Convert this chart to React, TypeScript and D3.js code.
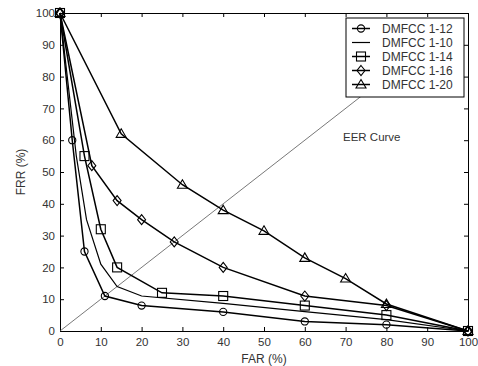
import React, { useEffect, useRef } from 'react';
import * as d3 from 'd3';

// FAR / FRR points
const far12 = [0, 3, 6, 11, 20, 40, 60, 80, 100];
const frr12 = [100, 60, 25, 11, 8, 6, 3, 2, 0];

const far10 = [0, 4, 6.5, 10, 14, 20, 40, 60, 80, 100];
const frr10 = [100, 55, 35, 21, 14, 11, 8.7, 6.1, 3.6, 0];

const far14 = [0, 6, 10, 14, 25, 40, 60, 80, 100];
const frr14 = [100, 55, 32, 20, 12, 11, 8, 5, 0];

const far16 = [0, 7.8, 14, 20, 28, 40, 60, 80, 100];
const frr16 = [100, 52, 41, 35, 28, 20, 11, 8, 0];

const far20 = [0, 15, 30, 40, 50, 60, 70, 80, 100];
const frr20 = [100, 62, 46, 38, 31.5, 23, 16.5, 8.5, 0];

const seriesNames = ['DMFCC 1-12', 'DMFCC 1-10', 'DMFCC 1-14', 'DMFCC 1-16', 'DMFCC 1-20'];
const seriesMarkers = ['circle', 'none', 'square', 'diamond', 'triangle'];
const xTicks = [0, 10, 20, 30, 40, 50, 60, 70, 80, 90, 100];
const yTicks = [0, 10, 20, 30, 40, 50, 60, 70, 80, 90, 100];
const eerEnd = 76;

function App() {
    const svgRef = useRef(null);

    useEffect(() => {
        const width = 478;
        const height = 366;
        const margin = { top: 13, right: 10, bottom: 35, left: 60 };
        const font = 'Liberation Sans, Arial, sans-serif';

        const svg = d3.select(svgRef.current)
            .attr('width', width)
            .attr('height', height);
        svg.selectAll('*').remove();

        const x = d3.scaleLinear().domain([0, 100]).range([margin.left, width - margin.right]);
        const y = d3.scaleLinear().domain([0, 100]).range([height - margin.bottom, margin.top]);

        svg.append('rect')
            .attr('width', width)
            .attr('height', height)
            .attr('fill', '#fff');

        // axes with inward ticks, MATLAB style box
        const tickLen = 4;
        const bottomAxis = svg.append('g')
            .attr('transform', `translate(0,${y(0)})`)
            .call(d3.axisBottom(x).tickValues(xTicks).tickSizeInner(-tickLen).tickSizeOuter(0).tickPadding(6));
        const leftAxis = svg.append('g')
            .attr('transform', `translate(${x(0)},0)`)
            .call(d3.axisLeft(y).tickValues(yTicks).tickSizeInner(-tickLen).tickSizeOuter(0).tickPadding(5));
        svg.append('g')
            .attr('transform', `translate(0,${y(100)})`)
            .call(d3.axisTop(x).tickValues(xTicks).tickSizeInner(-tickLen).tickSizeOuter(0).tickFormat(() => ''));
        svg.append('g')
            .attr('transform', `translate(${x(100)},0)`)
            .call(d3.axisRight(y).tickValues(yTicks).tickSizeInner(-tickLen).tickSizeOuter(0).tickFormat(() => ''));

        svg.selectAll('.domain').attr('stroke', '#000').attr('stroke-width', 1);
        svg.selectAll('.tick line').attr('stroke', '#000');
        [bottomAxis, leftAxis].forEach(a => a.selectAll('text')
            .attr('font-family', font)
            .attr('font-size', 11.5)
            .attr('fill', '#333'));
        bottomAxis.selectAll('text').attr('dy', '0.8em');

        svg.append('text')
            .attr('x', (x(0) + x(100)) / 2)
            .attr('y', 363)
            .attr('text-anchor', 'middle')
            .attr('font-family', font)
            .attr('font-size', 12)
            .attr('fill', '#333')
            .text('FAR (%)');

        svg.append('text')
            .attr('transform', `translate(25,${(y(0) + y(100)) / 2}) rotate(-90)`)
            .attr('text-anchor', 'middle')
            .attr('font-family', font)
            .attr('font-size', 12)
            .attr('fill', '#333')
            .text('FRR (%)');

        // EER line
        svg.append('line')
            .attr('x1', x(0)).attr('y1', y(0))
            .attr('x2', x(eerEnd)).attr('y2', y(eerEnd))
            .attr('stroke', '#555')
            .attr('stroke-width', 0.8);

        svg.append('text')
            .attr('x', 343)
            .attr('y', 141)
            .attr('font-family', font)
            .attr('font-size', 11.5)
            .attr('fill', '#333')
            .text('EER Curve');

        const series = [
            [far12, frr12],
            [far10, frr10],
            [far14, frr14],
            [far16, frr16],
            [far20, frr20],
        ];

        const line = d3.line().x(d => x(d[0])).y(d => y(d[1]));

        function drawMarker(g, kind, cx, cy) {
            if (kind === 'circle') {
                g.append('circle').attr('cx', cx).attr('cy', cy).attr('r', 3.6)
                    .attr('fill', 'none').attr('stroke', '#000').attr('stroke-width', 1.1);
            } else if (kind === 'square') {
                g.append('rect').attr('x', cx - 4.5).attr('y', cy - 4.5).attr('width', 9).attr('height', 9)
                    .attr('fill', 'none').attr('stroke', '#000').attr('stroke-width', 1.1);
            } else if (kind === 'diamond') {
                g.append('path').attr('d', `M${cx},${cy - 5}L${cx + 4},${cy}L${cx},${cy + 5}L${cx - 4},${cy}Z`)
                    .attr('fill', 'none').attr('stroke', '#000').attr('stroke-width', 1.1);
            } else if (kind === 'triangle') {
                g.append('path').attr('d', `M${cx},${cy - 5}L${cx + 5},${cy + 3.5}L${cx - 5},${cy + 3.5}Z`)
                    .attr('fill', 'none').attr('stroke', '#000').attr('stroke-width', 1.1);
            }
        }

        series.forEach(([xs, ys], i) => {
            const pts = xs.map((v, j) => [v, ys[j]]);
            const g = svg.append('g');
            g.append('path')
                .datum(pts)
                .attr('fill', 'none')
                .attr('stroke', '#000')
                .attr('stroke-width', i === 1 ? 1.2 : 1.5)
                .attr('d', line);
            pts.forEach(p => drawMarker(g, seriesMarkers[i], x(p[0]), y(p[1])));
        });

        // legend
        const lg = svg.append('g').attr('transform', 'translate(346,18)');
        lg.append('rect')
            .attr('width', 118)
            .attr('height', 79)
            .attr('fill', '#fff')
            .attr('stroke', '#000')
            .attr('stroke-width', 1);
        seriesNames.forEach((name, i) => {
            const cy = 10.5 + i * 14;
            lg.append('line')
                .attr('x1', 6).attr('x2', 24)
                .attr('y1', cy).attr('y2', cy)
                .attr('stroke', '#000')
                .attr('stroke-width', i === 1 ? 1.2 : 1.5);
            drawMarker(lg, seriesMarkers[i], 15, cy);
            lg.append('text')
                .attr('x', 36)
                .attr('y', cy + 4)
                .attr('font-family', font)
                .attr('font-size', 12)
                .attr('fill', '#333')
                .text(name);
        });
    }, []);

    return <svg ref={svgRef} style={{ position: 'absolute', left: 0, top: 0 }}></svg>;
}

export default App;
